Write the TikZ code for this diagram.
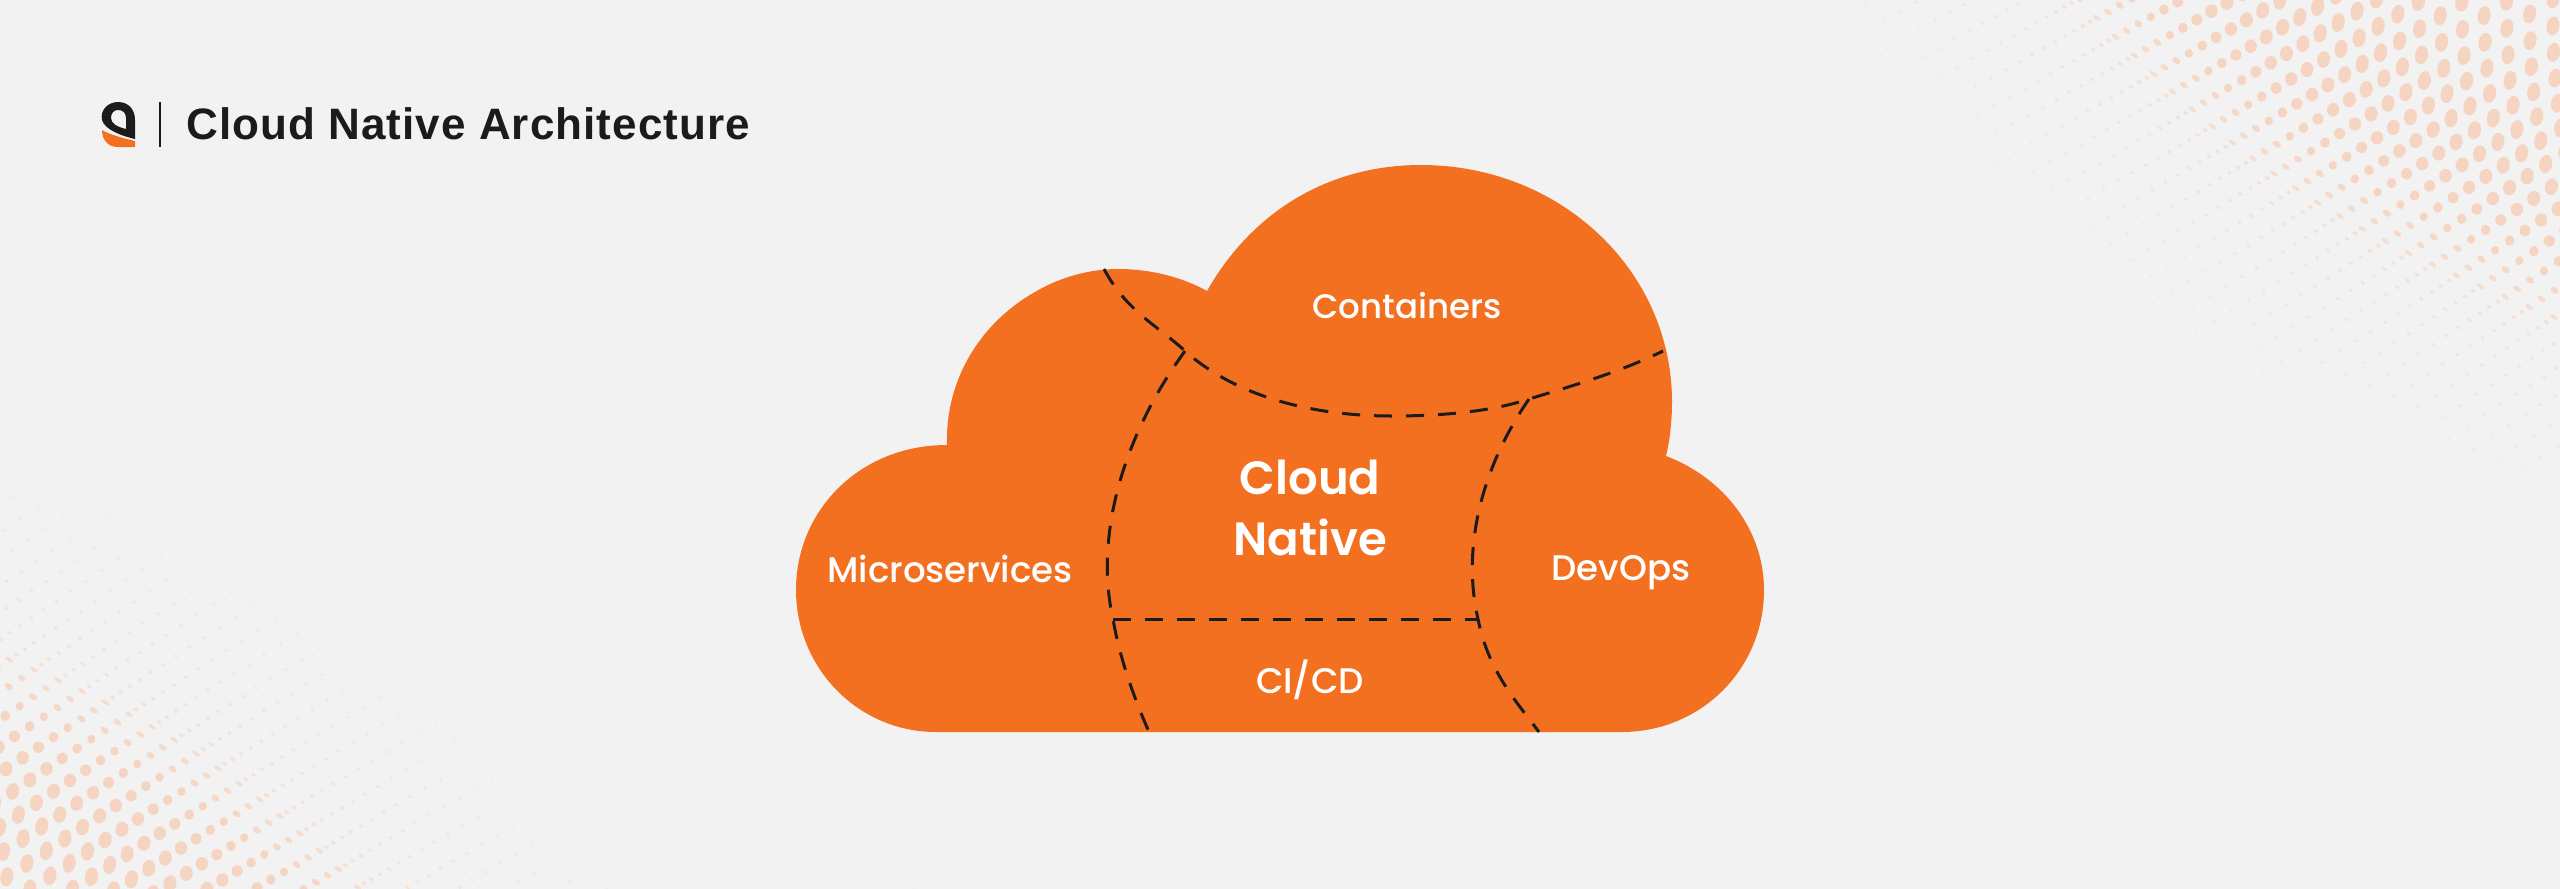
\documentclass[tikz,border=0pt]{standalone}
\usepackage{fontspec}
\setmainfont{Poppins Medium}
\newfontfamily\corefont{Poppins SemiBold}
\newfontfamily\titlefont[LetterSpace=2.4]{Liberation Sans}
\definecolor{bg}{HTML}{F2F2F2}
\definecolor{cloudc}{HTML}{F37021}
\definecolor{dotc}{HTML}{F5D5C2}
\definecolor{inkc}{HTML}{1B1B1B}
\tikzset{
  cloudlabel/.style={text=white,anchor=mid,font=\fontsize{17.8}{20}\selectfont,inner sep=0pt},
  toplabel/.style={text=white,anchor=mid,font=\fontsize{17}{20}\selectfont,inner sep=0pt},
  corelabel/.style={text=white,anchor=mid,font=\corefont\fontsize{23.3}{26}\selectfont,inner sep=0pt},
  boundary/.style={draw=inkc,line width=1.5pt,dash pattern=on 9pt off 7pt},
}
\newcommand{\dotfield}[7]{%
  \foreach \m in {-24,...,18}{%
    \foreach \k in {-30,...,50}{%
      \pgfmathsetmacro\nn{\m>=0 ? 12*\m+0.4*\m*\m : 7*\m-0.5*\m*\m}%
      \pgfmathsetmacro\tpos{26*\k+#7*0.45*\nn}%
      \pgfmathsetmacro\nb{\nn-#6*sin(180/#5*\tpos)}%
      \pgfmathsetmacro\px{#1+\tpos*#3+#7*#4*\nb}%
      \pgfmathsetmacro\py{#2+\tpos*#4-#7*#3*\nb}%
      \pgfmathtruncatemacro\vis{and(and(\px>-20,\px<2580),and(\py>-20,\py<909))}%
      \ifnum\vis=1
        \pgfmathtruncatemacro\pc{\m>=3 ? 100 : (\m>=0 ? 70+10*\m : max(65-2.8*abs(\m),3))}%
        \pgfmathsetmacro\rb{\m>=3 ? min(9.5,2+0.8*\m) : (\m>=0 ? 2+0.5*\m : max(1.1,1.6-0.03*abs(\m)))}%
        \pgfmathsetmacro\ra{\m>=3 ? min(6.5,2+0.7*\m) : (\m>=0 ? 4.5 : max(2.8-0.07*abs(\m),1))}%
        \pgfmathsetmacro\rot{\m>=3 ? -10 : -34}%
        \fill[dotc!\pc!bg,shift={(\px,\py)},rotate=\rot] (0,0) ellipse ({\ra*0.5pt} and {\rb*0.5pt});%
      \fi
    }%
  }%
}
\begin{document}
\begin{tikzpicture}[x=0.5pt,y=-0.5pt]
\fill[bg] (0,0) rectangle (2560,889);
\useasboundingbox (0,0) rectangle (2560,889);
\begin{scope}
\clip (0,0) rectangle (2560,889);
\dotfield{2060}{-20}{0.827}{0.562}{604}{40}{1}
\dotfield{-40}{640}{0.835}{0.55}{527}{35}{-1}
\end{scope}
% cloud
\coordinate (bl) at (936,732);
\coordinate (br) at (1622,732);
\fill[cloudc] (bl)
  .. controls (858,732) and (796,668) .. (796,590)
  .. controls (796,510) and (860,445) .. (947,445)
  .. controls (945,375) and (985,320) .. (1035,292)
  .. controls (1060,277) and (1090,269) .. (1118,269)
  .. controls (1150,269) and (1182,277) .. (1207,291)
  .. controls (1250,215) and (1325,165) .. (1421,165)
  .. controls (1560,165) and (1672,270) .. (1672,402)
  .. controls (1672,420) and (1670,440) .. (1666,456)
  .. controls (1724,478) and (1764,530) .. (1764,590)
  .. controls (1764,670) and (1700,732) .. (1622,732)
  -- cycle;
% boundaries
\coordinate (arcA) at (1104,269);
\coordinate (j1) at (1185,351);
\coordinate (arcM) at (1392,416);
\coordinate (j2) at (1529,399);
\coordinate (arcB) at (1663,351);
\coordinate (l1) at (1113,619);
\coordinate (l2) at (1149,732);
\coordinate (r1) at (1478,619);
\coordinate (r2) at (1539,732);
\draw[boundary] (arcA) .. controls (1127,312) and (1157,325) .. (j1)
  .. controls (1240,400) and (1320,416) .. (arcM)
  .. controls (1440,416) and (1490,412) .. (j2)
  .. controls (1575,385) and (1620,372) .. (arcB);
\draw[boundary] (j1) .. controls (1120,440) and (1095,540) .. (l1)
  .. controls (1120,660) and (1135,700) .. (l2);
\draw[boundary] (j2) .. controls (1480,470) and (1462,550) .. (r1)
  .. controls (1488,670) and (1515,700) .. (r2);
\draw[boundary] (l1) -- (r1);
% labels
\node[toplabel] (containers) at (1407,313) {Containers};
\node[cloudlabel] (micro) at (950,577) {Microservices};
\node[cloudlabel] (devops) at (1621,575) {DevOps};
\node[cloudlabel] (cicd) at (1310,688) {CI/CD};
\node[corelabel] (cloud) at (1310,489) {Cloud};
\node[corelabel] (native) at (1310,550) {Native};
% logo
\fill[inkc,even odd rule] (102,120)
  .. controls (100,110) and (108,102) .. (118,102)
  .. controls (129,102) and (135,110) .. (135,120)
  -- (135,139)
  .. controls (122,136) and (105,130) .. (102,120) -- cycle
  (111,118)
  .. controls (111,113) and (114,110) .. (118,110)
  .. controls (123,110) and (126,113) .. (126,118)
  -- (126,129)
  .. controls (118,127) and (111,124) .. (111,118) -- cycle;
\fill[cloudc] (102,130)
  .. controls (108,134) and (122,138) .. (135,141)
  -- (135,147) -- (118,147)
  .. controls (108,147) and (102,140) .. (102,130) -- cycle;
\coordinate (barT) at (159.5,102);
\coordinate (barB) at (159.5,147);
\draw[inkc,line width=1pt] (barT) -- (barB);
\node[inkc,anchor=base west,inner sep=0pt,font=\titlefont\fontsize{22}{24}\selectfont\bfseries] (title) at (186,139) {Cloud Native Architecture};
\end{tikzpicture}
\end{document}
